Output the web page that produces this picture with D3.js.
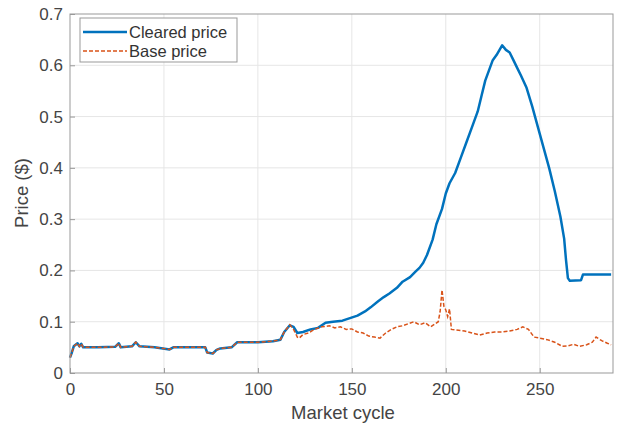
<!DOCTYPE html>
<html>
<head>
<meta charset="utf-8">
<script src="https://cdn.jsdelivr.net/npm/d3@7"></script>
<style>
  body { margin: 0; background: #fff; }
  text { font-family: "Liberation Sans", Arial, sans-serif; }
</style>
</head>
<body>
<div id="chart"></div>
<script>
var width = 622;
var height = 425;

// cleared price
var clearedCycle = [0, 1, 2, 4, 5, 6, 7, 15, 24, 26, 27, 33, 35, 37, 45, 53, 55, 72, 73, 76, 78, 80, 86, 89, 100, 108, 112,
    114, 117, 119, 121, 124, 128, 132, 136, 140, 145, 149, 153, 157, 160, 164, 167, 170, 174, 177, 181, 184, 186, 188,
    190, 193, 195, 198, 200, 202, 205, 208, 211, 214, 217, 219, 221, 223, 225, 227, 230, 232, 234, 236, 238, 240, 243,
    246, 249, 252, 255, 258, 261, 263, 264, 265, 266, 272, 273, 288];
var clearedPrice = [0.03, 0.04, 0.052, 0.058, 0.052, 0.057, 0.05, 0.05, 0.051, 0.058, 0.05, 0.052, 0.06, 0.052, 0.05, 0.046, 0.05, 0.05, 0.04, 0.038, 0.045, 0.048, 0.05, 0.06, 0.06, 0.062, 0.065,
    0.08, 0.093, 0.09, 0.078, 0.08, 0.085, 0.088, 0.098, 0.1, 0.102, 0.107, 0.112, 0.12, 0.128, 0.14, 0.148, 0.155, 0.166, 0.178, 0.187, 0.198, 0.205, 0.215,
    0.23, 0.26, 0.29, 0.32, 0.35, 0.37, 0.39, 0.42, 0.45, 0.48, 0.51, 0.54, 0.57, 0.59, 0.61, 0.62, 0.639, 0.63, 0.625, 0.61, 0.595, 0.58, 0.556,
    0.52, 0.48, 0.44, 0.4, 0.355, 0.305, 0.262, 0.22, 0.185, 0.18, 0.181, 0.192, 0.192];

// base price
var baseCycle = [0, 1, 2, 4, 5, 6, 7, 15, 24, 26, 27, 33, 35, 37, 45, 53, 55, 72, 73, 76, 78, 80, 86, 89, 100, 108, 112,
    114, 117, 119, 121, 122, 124, 127, 130, 134, 138, 141, 144, 147, 150, 153, 156, 159, 162, 165, 168, 171, 174, 177,
    180, 183, 186, 189, 192, 194, 196, 197, 198, 199, 200, 201, 202, 203, 205, 210, 214, 218, 222, 226, 230, 234, 238,
    241, 244, 247, 250, 254, 258, 262, 265, 268, 271, 275, 278, 280, 283, 286, 288];
var basePrice = [0.03, 0.04, 0.052, 0.058, 0.052, 0.057, 0.05, 0.05, 0.051, 0.058, 0.05, 0.052, 0.06, 0.052, 0.05, 0.046, 0.05, 0.05, 0.04, 0.038, 0.045, 0.048, 0.05, 0.06, 0.06, 0.062, 0.065,
    0.08, 0.094, 0.085, 0.07, 0.068, 0.075, 0.078, 0.085, 0.09, 0.092, 0.088, 0.09, 0.085, 0.086, 0.08, 0.078, 0.072, 0.07, 0.068, 0.078, 0.085, 0.09, 0.092,
    0.096, 0.1, 0.094, 0.098, 0.09, 0.095, 0.1, 0.12, 0.162, 0.13, 0.123, 0.11, 0.125, 0.085, 0.084, 0.082, 0.078, 0.074, 0.078, 0.08, 0.08, 0.082, 0.085,
    0.09, 0.085, 0.07, 0.068, 0.065, 0.06, 0.052, 0.053, 0.056, 0.052, 0.055, 0.06, 0.07, 0.063, 0.058, 0.055];

var xTicks = [0, 50, 100, 150, 200, 250];
var yTicks = [0, 0.1, 0.2, 0.3, 0.4, 0.5, 0.6, 0.7];
var seriesNames = ['Cleared price', 'Base price'];

var margin = { top: 14, right: 9, bottom: 52, left: 70 };
var chartWidth = width - margin.left - margin.right;
var chartHeight = height - margin.top - margin.bottom;

var svg = d3.select('#chart').append('svg')
    .attr('width', width)
    .attr('height', height);

var g = svg.append('g')
    .attr('transform', `translate(${margin.left}, ${margin.top})`);

var xScale = d3.scaleLinear().domain([0, 289]).range([0, chartWidth]);
var yScale = d3.scaleLinear().domain([0, 0.7]).range([chartHeight, 0]);

// grid
g.append('g').selectAll('line').data(xTicks.slice(1)).enter().append('line')
    .attr('x1', d => xScale(d)).attr('x2', d => xScale(d))
    .attr('y1', 0).attr('y2', chartHeight)
    .attr('stroke', '#e6e6e6').attr('stroke-width', 1);
g.append('g').selectAll('line').data(yTicks.slice(1, -1)).enter().append('line')
    .attr('x1', 0).attr('x2', chartWidth)
    .attr('y1', d => yScale(d)).attr('y2', d => yScale(d))
    .attr('stroke', '#e6e6e6').attr('stroke-width', 1);

// lines
var clearedData = clearedCycle.map((c, i) => [c, clearedPrice[i]]);
var baseData = baseCycle.map((c, i) => [c, basePrice[i]]);
var line = d3.line().x(d => xScale(d[0])).y(d => yScale(d[1]));

g.append('path').datum(clearedData)
    .attr('d', line)
    .attr('fill', 'none')
    .attr('stroke', '#0072BD')
    .attr('stroke-width', 2.5)
    .attr('stroke-linejoin', 'round');

g.append('path').datum(baseData)
    .attr('d', line)
    .attr('fill', 'none')
    .attr('stroke', '#D95319')
    .attr('stroke-width', 1.5)
    .attr('stroke-dasharray', '4,2');

// axes
var xAxis = d3.axisBottom(xScale).tickValues(xTicks).tickSize(-5).tickPadding(10);
var yAxis = d3.axisLeft(yScale).tickValues(yTicks).tickSize(-5).tickPadding(7)
    .tickFormat(d => d === 0 ? '0' : d3.format('.1f')(d));

var xAxis_g = g.append('g')
    .attr('transform', `translate(0, ${chartHeight})`)
    .call(xAxis);
var yAxis_g = g.append('g').call(yAxis);

[xAxis_g, yAxis_g].forEach(function (a) {
    a.select('.domain').remove();
    a.selectAll('line').attr('stroke', '#999');
    a.selectAll('text').attr('fill', '#444').style('font-size', '17px');
});

// box
g.append('rect')
    .attr('x', 0).attr('y', 0)
    .attr('width', chartWidth).attr('height', chartHeight)
    .attr('fill', 'none')
    .attr('stroke', '#999')
    .attr('stroke-width', 1);

// labels
svg.append('text')
    .attr('x', 343)
    .attr('y', 419)
    .attr('text-anchor', 'middle')
    .attr('fill', '#444')
    .style('font-size', '18.5px')
    .text('Market cycle');

svg.append('text')
    .attr('transform', `translate(28, 193) rotate(-90)`)
    .attr('text-anchor', 'middle')
    .attr('fill', '#444')
    .style('font-size', '18.5px')
    .text('Price ($)');

// legend
var legend = svg.append('g').attr('transform', 'translate(80, 18)');
legend.append('rect')
    .attr('width', 157).attr('height', 44)
    .attr('fill', '#fff')
    .attr('stroke', '#999');

var legendItems = legend.selectAll('g.item').data(seriesNames).enter().append('g')
    .attr('class', 'item')
    .attr('transform', (d, i) => `translate(0, ${14 + i * 19})`);

legendItems.append('line')
    .attr('x1', 3).attr('x2', 47)
    .attr('stroke', (d, i) => i === 0 ? '#0072BD' : '#D95319')
    .attr('stroke-width', (d, i) => i === 0 ? 2.5 : 1.5)
    .attr('stroke-dasharray', (d, i) => i === 0 ? null : '4,2');

legendItems.append('text')
    .attr('x', 49)
    .attr('dy', '0.35em')
    .attr('fill', '#333')
    .style('font-size', '16.5px')
    .text(d => d);
</script>
</body>
</html>
